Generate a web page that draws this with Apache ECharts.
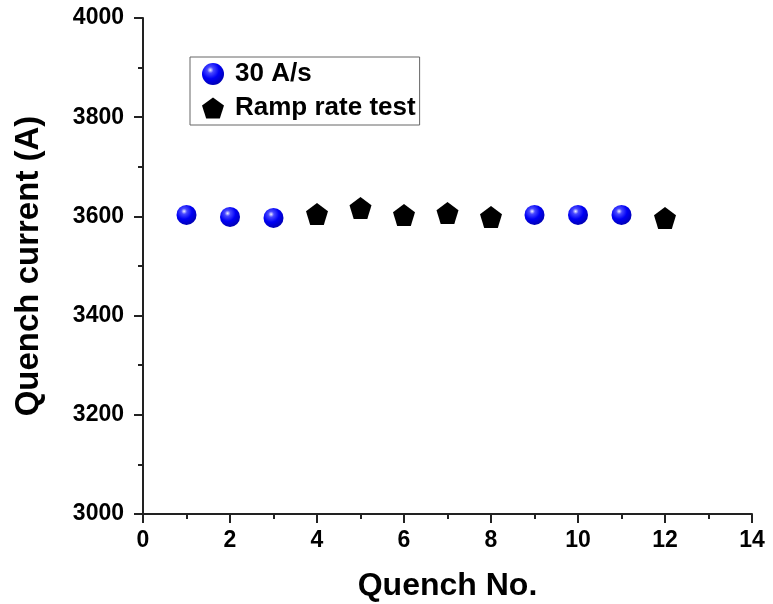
<!DOCTYPE html>
<html>
<head>
<meta charset="utf-8">
<script src="https://cdn.jsdelivr.net/npm/echarts@6/dist/echarts.min.js"></script>
<style>
html,body{margin:0;padding:0;background:#fff;}
#chart{width:773px;height:604px;}
</style>
</head>
<body>
<div id="chart"></div>
<script>
// data
var rateNo = [1, 2, 3, 9, 10, 11];
var rateCurrent = [3603, 3599, 3597, 3603, 3603, 3603];
var rampNo = [4, 5, 6, 7, 8, 12];
var rampCurrent = [3605, 3617, 3603, 3607, 3599, 3597];

var FONT = 'Liberation Sans, Arial, sans-serif';

function pairs(xs, ys) {
    var out = [];
    for (var i = 0; i < xs.length; i++) out.push([xs[i], ys[i]]);
    return out;
}

var sphere = {
    type: 'radial', x: 0.38, y: 0.32, r: 0.72,
    colorStops: [
        {offset: 0, color: '#f0f0ff'},
        {offset: 0.2, color: '#4848ff'},
        {offset: 0.55, color: '#0000f5'},
        {offset: 1, color: '#0000b0'}
    ]
};
var pentagon = 'path://M0,-10 L9.51,-3.09 L5.88,8.09 L-5.88,8.09 L-9.51,-3.09 Z';

var chart = echarts.init(document.getElementById('chart'));
var option = {
    backgroundColor: '#fff',
    animation: false,
    grid: {left: 143, right: 21, top: 18, bottom: 90, containLabel: false, outerBoundsMode: 'none'},
    legend: {
        orient: 'vertical',
        left: 190, top: 57,
        padding: [4, 4, 4, 12],
        itemGap: 8,
        itemWidth: 22, itemHeight: 22,
        borderColor: '#666', borderWidth: 1,
        textStyle: {fontFamily: FONT, fontWeight: 'bold', fontSize: 26, color: '#000', padding: [0, 0, 0, 6]},
        data: ['30 A/s', 'Ramp rate test']
    },
    xAxis: {
        type: 'value', min: 0, max: 14, interval: 2,
        name: 'Quench No.', nameLocation: 'middle', nameGap: 56,
        nameTextStyle: {fontFamily: FONT, fontWeight: 'bold', fontSize: 32, color: '#000'},
        axisLine: {lineStyle: {color: '#222', width: 2}},
        axisTick: {inside: false, length: 9, lineStyle: {color: '#222', width: 2}},
        minorTick: {show: true, splitNumber: 2, length: 5, lineStyle: {color: '#222', width: 2}},
        axisLabel: {fontFamily: FONT, fontWeight: 'bold', fontSize: 23, color: '#000', margin: 15,
            formatter: function (v) { return String(v); }},
        splitLine: {show: false}
    },
    yAxis: {
        type: 'value', min: 3000, max: 4000, interval: 200,
        name: 'Quench current (A)', nameLocation: 'middle', nameGap: 98,
        nameTextStyle: {fontFamily: FONT, fontWeight: 'bold', fontSize: 33, color: '#000'},
        axisLine: {show: true, lineStyle: {color: '#222', width: 2}},
        axisTick: {show: true, inside: false, length: 9, lineStyle: {color: '#222', width: 2}},
        minorTick: {show: true, splitNumber: 2, length: 5, lineStyle: {color: '#222', width: 2}},
        axisLabel: {fontFamily: FONT, fontWeight: 'bold', fontSize: 23, color: '#000', margin: 19,
            formatter: function (v) { return String(v); }},
        splitLine: {show: false}
    },
    series: [
        {
            name: '30 A/s', type: 'scatter',
            symbol: 'circle', symbolSize: 20,
            itemStyle: {color: sphere, opacity: 1},
            data: pairs(rateNo, rateCurrent)
        },
        {
            name: 'Ramp rate test', type: 'scatter',
            symbol: pentagon, symbolSize: 22,
            itemStyle: {color: '#000', opacity: 1},
            data: pairs(rampNo, rampCurrent)
        }
    ]
};
chart.setOption(option);
</script>
</body>
</html>
